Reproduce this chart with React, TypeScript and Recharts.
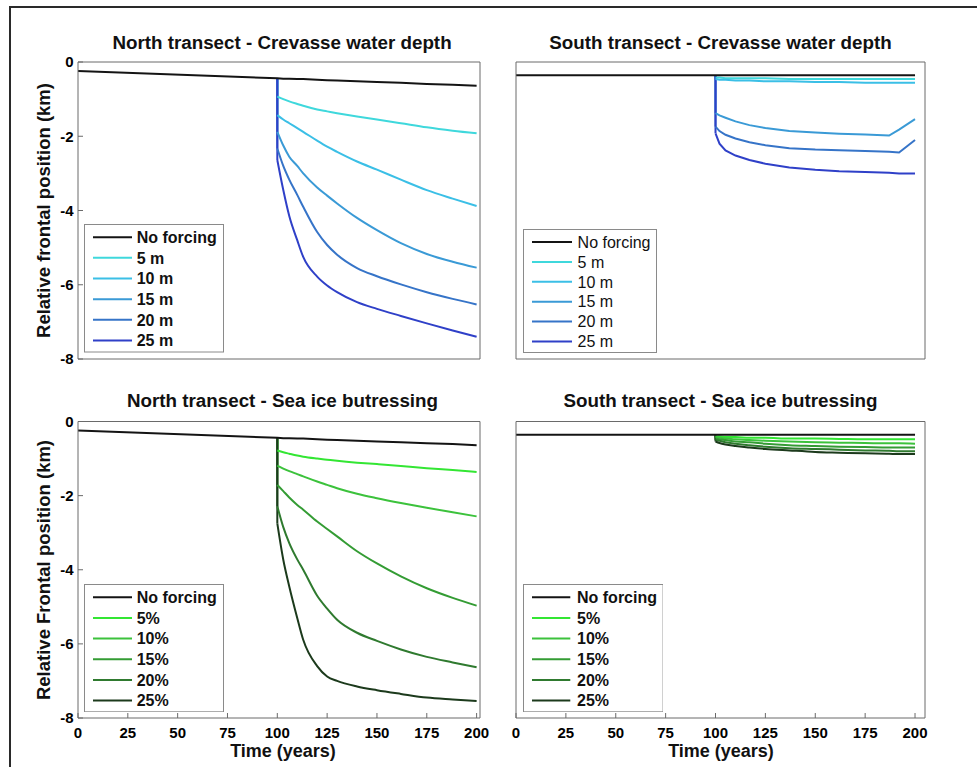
import React from 'react';
import { LineChart, Line, XAxis, YAxis, Legend } from 'recharts';

const FONT = '"Liberation Sans", Arial, Helvetica, sans-serif';
const AXIS_COLOR = '#6a6a6a';

// ---- time grids (years); 100 appears twice for the step at forcing onset ----
const northYears = [0, 100, 100, 103, 106, 110, 113, 120, 125, 130, 140, 150, 162, 175, 188, 200];
const southYears = [0, 100, 100, 102, 105, 110, 117, 125, 137, 150, 162, 175, 187, 192, 200];

const xTicks = [0, 25, 50, 75, 100, 125, 150, 175, 200];
const northYTicks = [0, -2, -4, -6, -8];
const southYTicks = [0, -0.5, -1, -1.5, -2, -2.5, -3, -3.5, -4];

const crevasseNames = ['No forcing', '5 m', '10 m', '15 m', '20 m', '25 m'];
const seaIceNames = ['No forcing', '5%', '10%', '15%', '20%', '25%'];
const crevasseColors = ['#141414', '#3fd8dc', '#3bbfe6', '#3a9ad6', '#3674c8', '#2f40c8'];
const seaIceColors = ['#141414', '#33e633', '#3cc23c', '#349c34', '#2f7a2f', '#1c3a1c'];

// ---- North transect (km) ----
const northNoForcing = [-0.24, -0.44, -0.44, -0.45, -0.45, -0.46, -0.46, -0.48, -0.49, -0.5, -0.52, -0.54, -0.56, -0.59, -0.61, -0.64];

const northCrev5 = [null, -0.44, -0.93, -1.0, -1.06, -1.13, -1.18, -1.28, -1.33, -1.38, -1.47, -1.55, -1.65, -1.76, -1.85, -1.92];
const northCrev10 = [null, -0.44, -1.43, -1.55, -1.65, -1.78, -1.88, -2.12, -2.28, -2.42, -2.68, -2.9, -3.17, -3.45, -3.68, -3.88];
const northCrev15 = [null, -0.44, -1.88, -2.25, -2.55, -2.8, -3.0, -3.38, -3.6, -3.81, -4.2, -4.53, -4.88, -5.17, -5.38, -5.54];
const northCrev20 = [null, -0.44, -2.33, -2.8, -3.17, -3.58, -3.9, -4.58, -4.93, -5.19, -5.55, -5.77, -5.99, -6.2, -6.38, -6.53];
const northCrev25 = [null, -0.44, -2.64, -3.45, -4.15, -4.8, -5.25, -5.78, -6.02, -6.2, -6.47, -6.65, -6.84, -7.04, -7.23, -7.4];

const northIce5 = [null, -0.44, -0.78, -0.83, -0.87, -0.92, -0.95, -1.0, -1.03, -1.06, -1.11, -1.15, -1.2, -1.26, -1.31, -1.36];
const northIce10 = [null, -0.44, -1.19, -1.27, -1.34, -1.42, -1.48, -1.62, -1.71, -1.8, -1.95, -2.07, -2.2, -2.33, -2.45, -2.56];
const northIce15 = [null, -0.44, -1.71, -1.88, -2.05, -2.25, -2.38, -2.7, -2.9, -3.1, -3.5, -3.83, -4.18, -4.5, -4.76, -4.97];
const northIce20 = [null, -0.44, -2.29, -2.85, -3.28, -3.72, -4.0, -4.7, -5.05, -5.35, -5.7, -5.92, -6.15, -6.35, -6.5, -6.63];
const northIce25 = [null, -0.44, -2.75, -3.73, -4.45, -5.3, -5.89, -6.6, -6.88, -7.0, -7.15, -7.25, -7.35, -7.45, -7.5, -7.54];

// ---- South transect (km) ----
const southNoForcing = [-0.18, -0.18, -0.18, -0.18, -0.18, -0.18, -0.18, -0.18, -0.18, -0.18, -0.18, -0.18, -0.18, -0.18, -0.18];

const southCrev5 = [null, -0.18, -0.21, -0.21, -0.22, -0.22, -0.22, -0.22, -0.23, -0.23, -0.23, -0.23, -0.23, -0.23, -0.23];
const southCrev10 = [null, -0.18, -0.23, -0.24, -0.24, -0.25, -0.25, -0.26, -0.26, -0.27, -0.27, -0.28, -0.28, -0.28, -0.28];
const southCrev15 = [null, -0.18, -0.69, -0.72, -0.75, -0.8, -0.85, -0.89, -0.93, -0.95, -0.965, -0.975, -0.99, -0.91, -0.77];
const southCrev20 = [null, -0.18, -0.87, -0.93, -0.98, -1.03, -1.08, -1.12, -1.16, -1.18, -1.19, -1.2, -1.21, -1.22, -1.05];
const southCrev25 = [null, -0.18, -0.96, -1.1, -1.19, -1.26, -1.32, -1.37, -1.42, -1.45, -1.47, -1.48, -1.49, -1.5, -1.5];

const southIce5 = [null, -0.18, -0.2, -0.2, -0.21, -0.21, -0.22, -0.22, -0.23, -0.23, -0.235, -0.24, -0.24, -0.24, -0.24];
const southIce10 = [null, -0.18, -0.21, -0.22, -0.23, -0.24, -0.25, -0.26, -0.27, -0.28, -0.285, -0.29, -0.295, -0.295, -0.3];
const southIce15 = [null, -0.18, -0.23, -0.24, -0.25, -0.27, -0.28, -0.3, -0.32, -0.33, -0.34, -0.345, -0.35, -0.35, -0.35];
const southIce20 = [null, -0.18, -0.25, -0.26, -0.28, -0.3, -0.32, -0.34, -0.36, -0.37, -0.38, -0.39, -0.395, -0.4, -0.4];
const southIce25 = [null, -0.18, -0.27, -0.29, -0.31, -0.33, -0.35, -0.37, -0.39, -0.41, -0.42, -0.43, -0.435, -0.44, -0.44];

type Series = (number | null)[];

interface LegendSpec {
  x: number; y: number; w: number; h: number;
  lineX1: number; lineX2: number; textX: number;
  row0: number; rowStep: number; bold: boolean;
}

interface PanelSpec {
  left: number; top: number; width: number; height: number;
  margin: { top: number; right: number; bottom: number; left: number };
  yAxisWidth: number;
  xMax: number;
  yDomain: [number, number];
  yTicks: number[];
  showXTickLabels: boolean;
  showYTickLabels: boolean;
  curve: 'monotone' | 'linear';
  title: string; titleX: number; titleY: number;
  yLabel?: string; yLabelX?: number; yLabelY?: number;
  xLabel?: string; xLabelX?: number; xLabelY?: number;
  years: number[];
  series: Series[];
  names: string[];
  colors: string[];
  legend: LegendSpec;
}

// n{k}: whole series (no forcing); d{k}: vertical drop at onset; c{k}: response curve after onset
const buildRows = (years: number[], series: Series[]) =>
  years.map((t, i) => {
    const row: Record<string, number | null> = { t };
    series.forEach((s, k) => {
      row[`n${k}`] = s[i];
      row[`d${k}`] = i === 1 || i === 2 ? s[i] : null;
      row[`c${k}`] = i >= 2 ? s[i] : null;
    });
    return row;
  });

const tickStyle = { fill: '#000', fontSize: 15, fontWeight: 700, fontFamily: FONT };

const panels: PanelSpec[] = [
  {
    left: 0, top: 0, width: 490, height: 380,
    margin: { top: 61, right: 9, bottom: 20, left: 0 },
    yAxisWidth: 78, xMax: 201.7, yDomain: [-8, 0], yTicks: northYTicks,
    showXTickLabels: false, showYTickLabels: true, curve: 'monotone',
    title: 'North transect - Crevasse water depth', titleX: 282, titleY: 48.5,
    yLabel: 'Relative frontal position (km)', yLabelX: 50, yLabelY: 210.5,
    years: northYears,
    series: [northNoForcing, northCrev5, northCrev10, northCrev15, northCrev20, northCrev25],
    names: crevasseNames, colors: crevasseColors,
    legend: { x: 84.3, y: 224.3, w: 140, h: 128.5, lineX1: 9, lineX2: 48, textX: 52.7, row0: 13.2, rowStep: 20.65, bold: true },
  },
  {
    left: 490, top: 0, width: 450, height: 380,
    margin: { top: 61, right: 14, bottom: 20, left: 0 },
    yAxisWidth: 26, xMax: 205, yDomain: [-4, 0], yTicks: southYTicks,
    showXTickLabels: false, showYTickLabels: false, curve: 'linear',
    title: 'South transect - Crevasse water depth', titleX: 230.5, titleY: 48.5,
    years: southYears,
    series: [southNoForcing, southCrev5, southCrev10, southCrev15, southCrev20, southCrev25],
    names: crevasseNames, colors: crevasseColors,
    legend: { x: 32.7, y: 228.7, w: 134, h: 124, lineX1: 9, lineX2: 49, textX: 54.6, row0: 13, rowStep: 19.9, bold: false },
  },
  {
    left: 0, top: 380, width: 490, height: 387,
    margin: { top: 40.5, right: 9, bottom: 48, left: 0 },
    yAxisWidth: 78, xMax: 201.7, yDomain: [-8, 0], yTicks: northYTicks,
    showXTickLabels: true, showYTickLabels: true, curve: 'monotone',
    title: 'North transect - Sea ice butressing', titleX: 282.5, titleY: 26.7,
    yLabel: 'Relative Frontal position (km)', yLabelX: 50, yLabelY: 190,
    xLabel: 'Time (years)', xLabelX: 283, xLabelY: 377,
    years: northYears,
    series: [northNoForcing, northIce5, northIce10, northIce15, northIce20, northIce25],
    names: seaIceNames, colors: seaIceColors,
    legend: { x: 84.3, y: 204, w: 140, h: 128.3, lineX1: 9, lineX2: 48, textX: 52.7, row0: 13.3, rowStep: 20.65, bold: true },
  },
  {
    left: 490, top: 380, width: 450, height: 387,
    margin: { top: 40.5, right: 14, bottom: 48, left: 0 },
    yAxisWidth: 26, xMax: 205, yDomain: [-4, 0], yTicks: southYTicks,
    showXTickLabels: true, showYTickLabels: false, curve: 'monotone',
    title: 'South transect - Sea ice butressing', titleX: 230.5, titleY: 26.7,
    xLabel: 'Time (years)', xLabelX: 231, xLabelY: 377,
    years: southYears,
    series: [southNoForcing, southIce5, southIce10, southIce15, southIce20, southIce25],
    names: seaIceNames, colors: seaIceColors,
    legend: { x: 32.7, y: 204, w: 140.6, h: 128.3, lineX1: 9, lineX2: 47.3, textX: 54, row0: 13.3, rowStep: 20.65, bold: true },
  },
];

function LegendBox({ spec, names, colors }: { spec: LegendSpec; names: string[]; colors: string[] }) {
  return (
    <svg width={spec.w} height={spec.h} style={{ display: 'block' }}>
      <rect x={0.5} y={0.5} width={spec.w - 1} height={spec.h - 1} fill="#fff" stroke="#8a8a8a" strokeWidth={1} />
      {names.map((n, i) => {
        const cy = spec.row0 + i * spec.rowStep;
        return (
          <g key={n}>
            <line x1={spec.lineX1} x2={spec.lineX2} y1={cy} y2={cy} stroke={colors[i]} strokeWidth={2} />
            <text x={spec.textX} y={cy + 5.7} fontFamily={FONT} fontSize={16} fontWeight={spec.bold ? 700 : 400} fill="#111">
              {n}
            </text>
          </g>
        );
      })}
    </svg>
  );
}

function Panel({ p }: { p: PanelSpec }) {
  const data = buildRows(p.years, p.series);
  const forced = [1, 2, 3, 4, 5];
  const lineCommon = {
    xAxisId: 'b',
    yAxisId: 'l',
    strokeWidth: 2,
    dot: false,
    activeDot: false,
    isAnimationActive: false,
  };
  return (
    <div style={{ position: 'absolute', left: p.left, top: p.top, width: p.width, height: p.height }}>
      <LineChart width={p.width} height={p.height} data={data} margin={p.margin}>
        <XAxis
          xAxisId="b" dataKey="t" type="number" orientation="bottom"
          domain={[0, p.xMax]} ticks={xTicks} interval={0} height={1}
          tickSize={-5} tickMargin={14} stroke={AXIS_COLOR}
          tick={p.showXTickLabels ? tickStyle : false}
          label={p.xLabel ? () => (
            <text x={p.xLabelX} y={p.xLabelY} textAnchor="middle" fontFamily={FONT} fontSize={18} fontWeight={700} fill="#111">
              {p.xLabel}
            </text>
          ) : undefined}
        />
        <XAxis
          xAxisId="t" type="number" orientation="top"
          domain={[0, p.xMax]} ticks={xTicks} interval={0} height={1}
          tickSize={-5} stroke={AXIS_COLOR} tick={false}
          label={() => (
            <text x={p.titleX} y={p.titleY} textAnchor="middle" fontFamily={FONT} fontSize={18.8} fontWeight={700} fill="#111">
              {p.title}
            </text>
          )}
        />
        <YAxis
          yAxisId="l" type="number" orientation="left"
          domain={p.yDomain} ticks={p.yTicks} interval={0} width={p.yAxisWidth}
          tickSize={-5} tickMargin={9.5} stroke={AXIS_COLOR}
          tick={p.showYTickLabels ? tickStyle : false}
          label={p.yLabel ? () => (
            <text
              x={p.yLabelX} y={p.yLabelY} textAnchor="middle"
              transform={`rotate(-90, ${p.yLabelX}, ${p.yLabelY})`}
              fontFamily={FONT} fontSize={18.5} fontWeight={700} fill="#111"
            >
              {p.yLabel}
            </text>
          ) : undefined}
        />
        <YAxis
          yAxisId="r" type="number" orientation="right"
          domain={p.yDomain} ticks={p.yTicks} interval={0} width={1}
          tickSize={-5} stroke={AXIS_COLOR} tick={false}
        />
        {forced.map((k) => (
          <Line
            key={`d${k}`}
            {...lineCommon}
            type="linear"
            dataKey={`d${k}`}
            name={`${p.names[k]} onset`}
            legendType="none"
            stroke={p.colors[k]}
          />
        ))}
        {forced.map((k) => (
          <Line
            key={`c${k}`}
            {...lineCommon}
            type={p.curve}
            dataKey={`c${k}`}
            name={p.names[k]}
            stroke={p.colors[k]}
          />
        ))}
        <Line
          {...lineCommon}
          type="linear"
          dataKey="n0"
          name={p.names[0]}
          stroke={p.colors[0]}
        />
        <Legend
          layout="vertical"
          align="center"
          verticalAlign="middle"
          wrapperStyle={{ left: p.legend.x, top: p.legend.y, width: p.legend.w, height: p.legend.h }}
          content={() => <LegendBox spec={p.legend} names={p.names} colors={p.colors} />}
        />
      </LineChart>
    </div>
  );
}

export default function App() {
  return (
    <div style={{ position: 'absolute', left: 0, top: 0, width: 977, height: 767, overflow: 'hidden', background: '#fff' }}>
      <div style={{ position: 'absolute', left: 9, top: 6, width: 2000, height: 2000, border: '2px solid #2a2a2a' }} />
      {panels.map((p, i) => (
        <Panel key={i} p={p} />
      ))}
    </div>
  );
}
